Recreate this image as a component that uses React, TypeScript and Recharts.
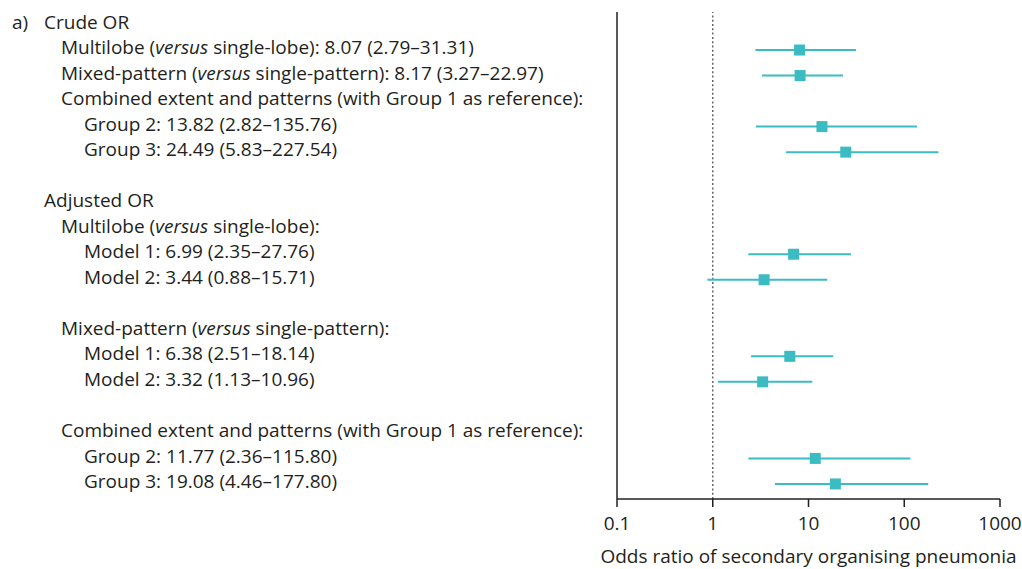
import {
  ScatterChart,
  Scatter,
  XAxis,
  YAxis,
  ErrorBar,
  ReferenceLine,
} from 'recharts';

// left-hand labels: row index, text, indent level
const labelRows = [0, 1, 2, 3, 4, 5, 7, 8, 9, 10, 12, 13, 14, 16, 17, 18];
const labelText = [
  'Crude OR',
  'Multilobe (versus single-lobe): 8.07 (2.79–31.31)',
  'Mixed-pattern (versus single-pattern): 8.17 (3.27–22.97)',
  'Combined extent and patterns (with Group 1 as reference):',
  'Group 2: 13.82 (2.82–135.76)',
  'Group 3: 24.49 (5.83–227.54)',
  'Adjusted OR',
  'Multilobe (versus single-lobe):',
  'Model 1: 6.99 (2.35–27.76)',
  'Model 2: 3.44 (0.88–15.71)',
  'Mixed-pattern (versus single-pattern):',
  'Model 1: 6.38 (2.51–18.14)',
  'Model 2: 3.32 (1.13–10.96)',
  'Combined extent and patterns (with Group 1 as reference):',
  'Group 2: 11.77 (2.36–115.80)',
  'Group 3: 19.08 (4.46–177.80)',
];
const labelLevel = [0, 1, 1, 1, 2, 2, 0, 1, 2, 2, 1, 2, 2, 1, 2, 2];
const panelLabel = 'a)';

// estimates
const estRows = [1, 2, 4, 5, 9, 10, 13, 14, 17, 18];
const oddsRatio = [8.07, 8.17, 13.82, 24.49, 6.99, 3.44, 6.38, 3.32, 11.77, 19.08];
const lower = [2.79, 3.27, 2.82, 5.83, 2.35, 0.88, 2.51, 1.13, 2.36, 4.46];
const upper = [31.31, 22.97, 135.76, 227.54, 27.76, 15.71, 18.14, 10.96, 115.8, 177.8];

const xTicks = [0.1, 1, 10, 100, 1000];
const xLabel = 'Odds ratio of secondary organising pneumonia';

const TEAL = '#3bbcc2';
const INK = '#231f20';
const FONT = '"Open Sans", sans-serif';
const FS = 19;
const indentX = [44, 61, 84];

const data = estRows.map((row, i) => ({
  row,
  or: oddsRatio[i],
  err: [oddsRatio[i] - lower[i], upper[i] - oddsRatio[i]],
}));

function LabelTick(props: any) {
  const { y, payload } = props;
  const idx = labelRows.indexOf(payload.value);
  if (idx < 0) return null;
  const text = labelText[idx];
  const parts = text.split('versus');
  return (
    <g>
      {payload.value === 0 && (
        <text x={12} y={y - 2.5} dy="0.35em" fill={INK} fontSize={FS} fontFamily={FONT}>
          {panelLabel}
        </text>
      )}
      <text
        x={indentX[labelLevel[idx]]}
        y={y - 2.5}
        dy="0.35em"
        fill={INK}
        fontSize={FS}
        fontFamily={FONT}
      >
        {parts.length > 1 ? (
          <>
            <tspan>{parts[0]}</tspan>
            <tspan fontStyle="italic">versus</tspan>
            <tspan>{parts[1]}</tspan>
          </>
        ) : (
          text
        )}
      </text>
    </g>
  );
}

function SquareDot(props: any) {
  const { cx, cy } = props;
  return <rect x={cx - 5.5} y={cy - 5.5} width={11} height={11} fill={TEAL} />;
}

export default function App() {
  return (
    <div style={{ position: 'absolute', left: 0, top: 0, width: 1022, height: 569 }}>
      <ScatterChart
        width={1022}
        height={569}
        margin={{ top: 12, right: 22, bottom: 4, left: 0 }}
      >
        <XAxis
          type="number"
          dataKey="or"
          scale="log"
          domain={[0.1, 1000]}
          ticks={xTicks}
          allowDataOverflow
          height={66}
          tickSize={8}
          tickMargin={10}
          axisLine={{ stroke: INK, strokeWidth: 1.5 }}
          tickLine={{ stroke: INK, strokeWidth: 1.5 }}
          tick={{ fill: INK, fontSize: FS, fontFamily: FONT }}
          tickFormatter={(v) => String(v)}
          label={{
            value: xLabel,
            position: 'insideBottom',
            offset: 2,
            fill: INK,
            fontSize: FS,
            fontFamily: FONT,
          }}
        />
        <YAxis
          type="number"
          dataKey="row"
          domain={[-0.49, 18.59]}
          reversed
          allowDataOverflow
          width={617}
          ticks={labelRows}
          interval={0}
          tickLine={false}
          axisLine={{ stroke: INK, strokeWidth: 1.5 }}
          tick={<LabelTick />}
        />
        <ReferenceLine
          x={1}
          stroke="#666"
          strokeWidth={1.5}
          strokeDasharray="2 2.3"
        />
        <Scatter data={data} shape={<SquareDot />} isAnimationActive={false}>
          <ErrorBar
            dataKey="err"
            direction="x"
            width={0}
            stroke={TEAL}
            strokeWidth={2}
            isAnimationActive={false}
          />
        </Scatter>
      </ScatterChart>
    </div>
  );
}
